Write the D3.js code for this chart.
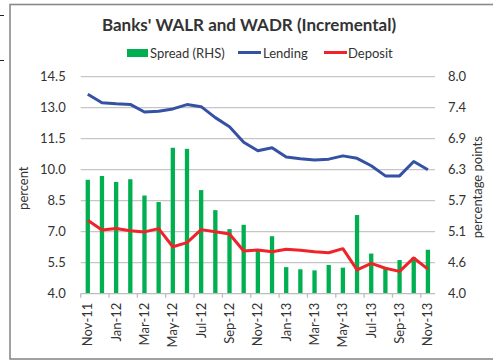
<!DOCTYPE html>
<html>
<head>
<meta charset="utf-8">
<script src="https://cdn.jsdelivr.net/npm/d3@7"></script>
<style>
  html, body { margin: 0; padding: 0; background: #fff; }
  svg { display: block; }
  text { font-family: Lato, "Open Sans", sans-serif; fill: #333; }
</style>
</head>
<body>
<svg id="chart" width="493" height="360"></svg>
<script>
// Monthly weighted average lending / deposit rates (percent) and their spread (percentage points)
const months = ["Nov-11","Dec-11","Jan-12","Feb-12","Mar-12","Apr-12","May-12","Jun-12","Jul-12",
  "Aug-12","Sep-12","Oct-12","Nov-12","Dec-12","Jan-13","Feb-13","Mar-13","Apr-13","May-13",
  "Jun-13","Jul-13","Aug-13","Sep-13","Oct-13","Nov-13"];
const lending = [13.65,13.24,13.19,13.16,12.79,12.83,12.94,13.15,13.05,12.52,12.08,11.33,10.92,
  11.06,10.61,10.53,10.47,10.51,10.67,10.55,10.19,9.70,9.70,10.40,10.00];
const deposit = [7.55,7.08,7.15,7.05,6.99,7.15,6.27,6.47,7.10,7.00,6.89,6.07,6.11,6.03,6.15,
  6.10,6.03,5.98,6.18,5.15,5.47,5.23,5.08,5.73,5.19];
const spread = [6.10,6.17,6.06,6.11,5.81,5.69,6.69,6.67,5.91,5.54,5.19,5.27,4.80,5.06,4.49,
  4.45,4.43,4.53,4.48,5.45,4.74,4.47,4.62,4.67,4.81];
const leftTicks = [4.0,5.5,7.0,8.5,10.0,11.5,13.0,14.5];
const rightTicks = d3.range(8).map(k => 4 + k * 4 / 7);
const labelMonths = months.filter((m, i) => i % 2 === 0);

const svg = d3.select("#chart");
const plot = { left: 80.7, right: 435, top: 76.7, bottom: 293.7 };

// outer frame
svg.append("rect").attr("x", 10).attr("y", 4.5).attr("width", 490).attr("height", 354.5)
  .attr("fill", "none").attr("stroke", "#8a8a8a").attr("stroke-width", 1.6);
svg.append("line").attr("x1", 0).attr("x2", 4).attr("y1", 15.5).attr("y2", 15.5).attr("stroke", "#222");
svg.append("line").attr("x1", 0).attr("x2", 4).attr("y1", 60.5).attr("y2", 60.5).attr("stroke", "#222");

const x = d3.scaleBand().domain(months).range([plot.left, plot.right]).padding(0);
const yL = d3.scaleLinear().domain([4, 14.5]).range([plot.bottom, plot.top]);
const yR = d3.scaleLinear().domain([4, 8]).range([plot.bottom, plot.top]);
const cx = m => x(m) + x.bandwidth() / 2;

// gridlines
svg.append("g").selectAll("line").data(leftTicks.slice(1)).join("line")
  .attr("x1", plot.left).attr("x2", plot.right)
  .attr("y1", d => yL(d)).attr("y2", d => yL(d))
  .attr("stroke", "#c6c6c6").attr("stroke-width", 1.3);

// spread bars (right axis)
const barW = 4.3;
svg.append("g").selectAll("rect").data(spread).join("rect")
  .attr("x", (d, i) => cx(months[i]) - barW / 2)
  .attr("width", barW)
  .attr("y", d => yR(d))
  .attr("height", d => yR(4) - yR(d))
  .attr("fill", "#00b050");

// category axis
svg.append("line").attr("x1", plot.left).attr("x2", plot.right)
  .attr("y1", plot.bottom).attr("y2", plot.bottom)
  .attr("stroke", "#bdbdbd").attr("stroke-width", 1.3);
svg.append("g").selectAll("line").data(labelMonths).join("line")
  .attr("x1", d => x(d)).attr("x2", d => x(d))
  .attr("y1", plot.bottom).attr("y2", plot.bottom + 4)
  .attr("stroke", "#bdbdbd").attr("stroke-width", 1.3);
svg.append("g").selectAll("text").data(labelMonths).join("text")
  .attr("transform", d => `translate(${cx(d) + 4.5},${plot.bottom + 9}) rotate(-90)`)
  .attr("text-anchor", "end")
  .style("font-size", "13px")
  .text(d => d);

// rate lines (left axis)
const line = d3.line().x((d, i) => cx(months[i])).y(d => yL(d));
svg.append("path").datum(lending).attr("d", line)
  .attr("fill", "none").attr("stroke", "#3451a3").attr("stroke-width", 3).attr("stroke-linejoin", "round");
svg.append("path").datum(deposit).attr("d", line)
  .attr("fill", "none").attr("stroke", "#f0222a").attr("stroke-width", 3).attr("stroke-linejoin", "round");

// value axes
const fmt = d3.format(".1f");
const axL = svg.append("g").attr("transform", `translate(${plot.left - 15},0)`)
  .call(d3.axisLeft(yL).tickValues(leftTicks).tickFormat(fmt).tickSize(0).tickPadding(0));
const axR = svg.append("g").attr("transform", `translate(${plot.right + 13},0)`)
  .call(d3.axisRight(yR).tickValues(rightTicks).tickFormat(fmt).tickSize(0).tickPadding(0));
[axL, axR].forEach(a => {
  a.select(".domain").remove();
  a.selectAll("text").style("font-size", "13px").style("font-family", "Lato, sans-serif").attr("fill", "#333");
});

svg.append("text").attr("transform", `translate(28,${(plot.top + plot.bottom) / 2 + 3}) rotate(-90)`)
  .attr("text-anchor", "middle").style("font-size", "13px").text("percent");
svg.append("text").attr("transform", `translate(482,${(plot.top + plot.bottom) / 2 + 2}) rotate(-90)`)
  .attr("text-anchor", "middle").style("font-size", "13px").text("percentage points");

// title
svg.append("text").attr("x", 249).attr("y", 31).attr("text-anchor", "middle")
  .style("font-size", "17px").style("font-weight", "bold").attr("fill", "#262626")
  .text("Banks' WALR and WADR (Incremental)");

// legend
const lg = svg.append("g");
lg.append("rect").attr("x", 127).attr("y", 49).attr("width", 21).attr("height", 8).attr("fill", "#00b050");
lg.append("text").attr("x", 150).attr("y", 57.5).style("font-size", "13px").text("Spread (RHS)");
lg.append("line").attr("x1", 238).attr("x2", 261).attr("y1", 52.5).attr("y2", 52.5)
  .attr("stroke", "#3451a3").attr("stroke-width", 3);
lg.append("text").attr("x", 263).attr("y", 57.5).style("font-size", "13px").text("Lending");
lg.append("line").attr("x1", 324).attr("x2", 347).attr("y1", 52.5).attr("y2", 52.5)
  .attr("stroke", "#f0222a").attr("stroke-width", 3);
lg.append("text").attr("x", 348).attr("y", 57.5).style("font-size", "13px").text("Deposit");
</script>
</body>
</html>
